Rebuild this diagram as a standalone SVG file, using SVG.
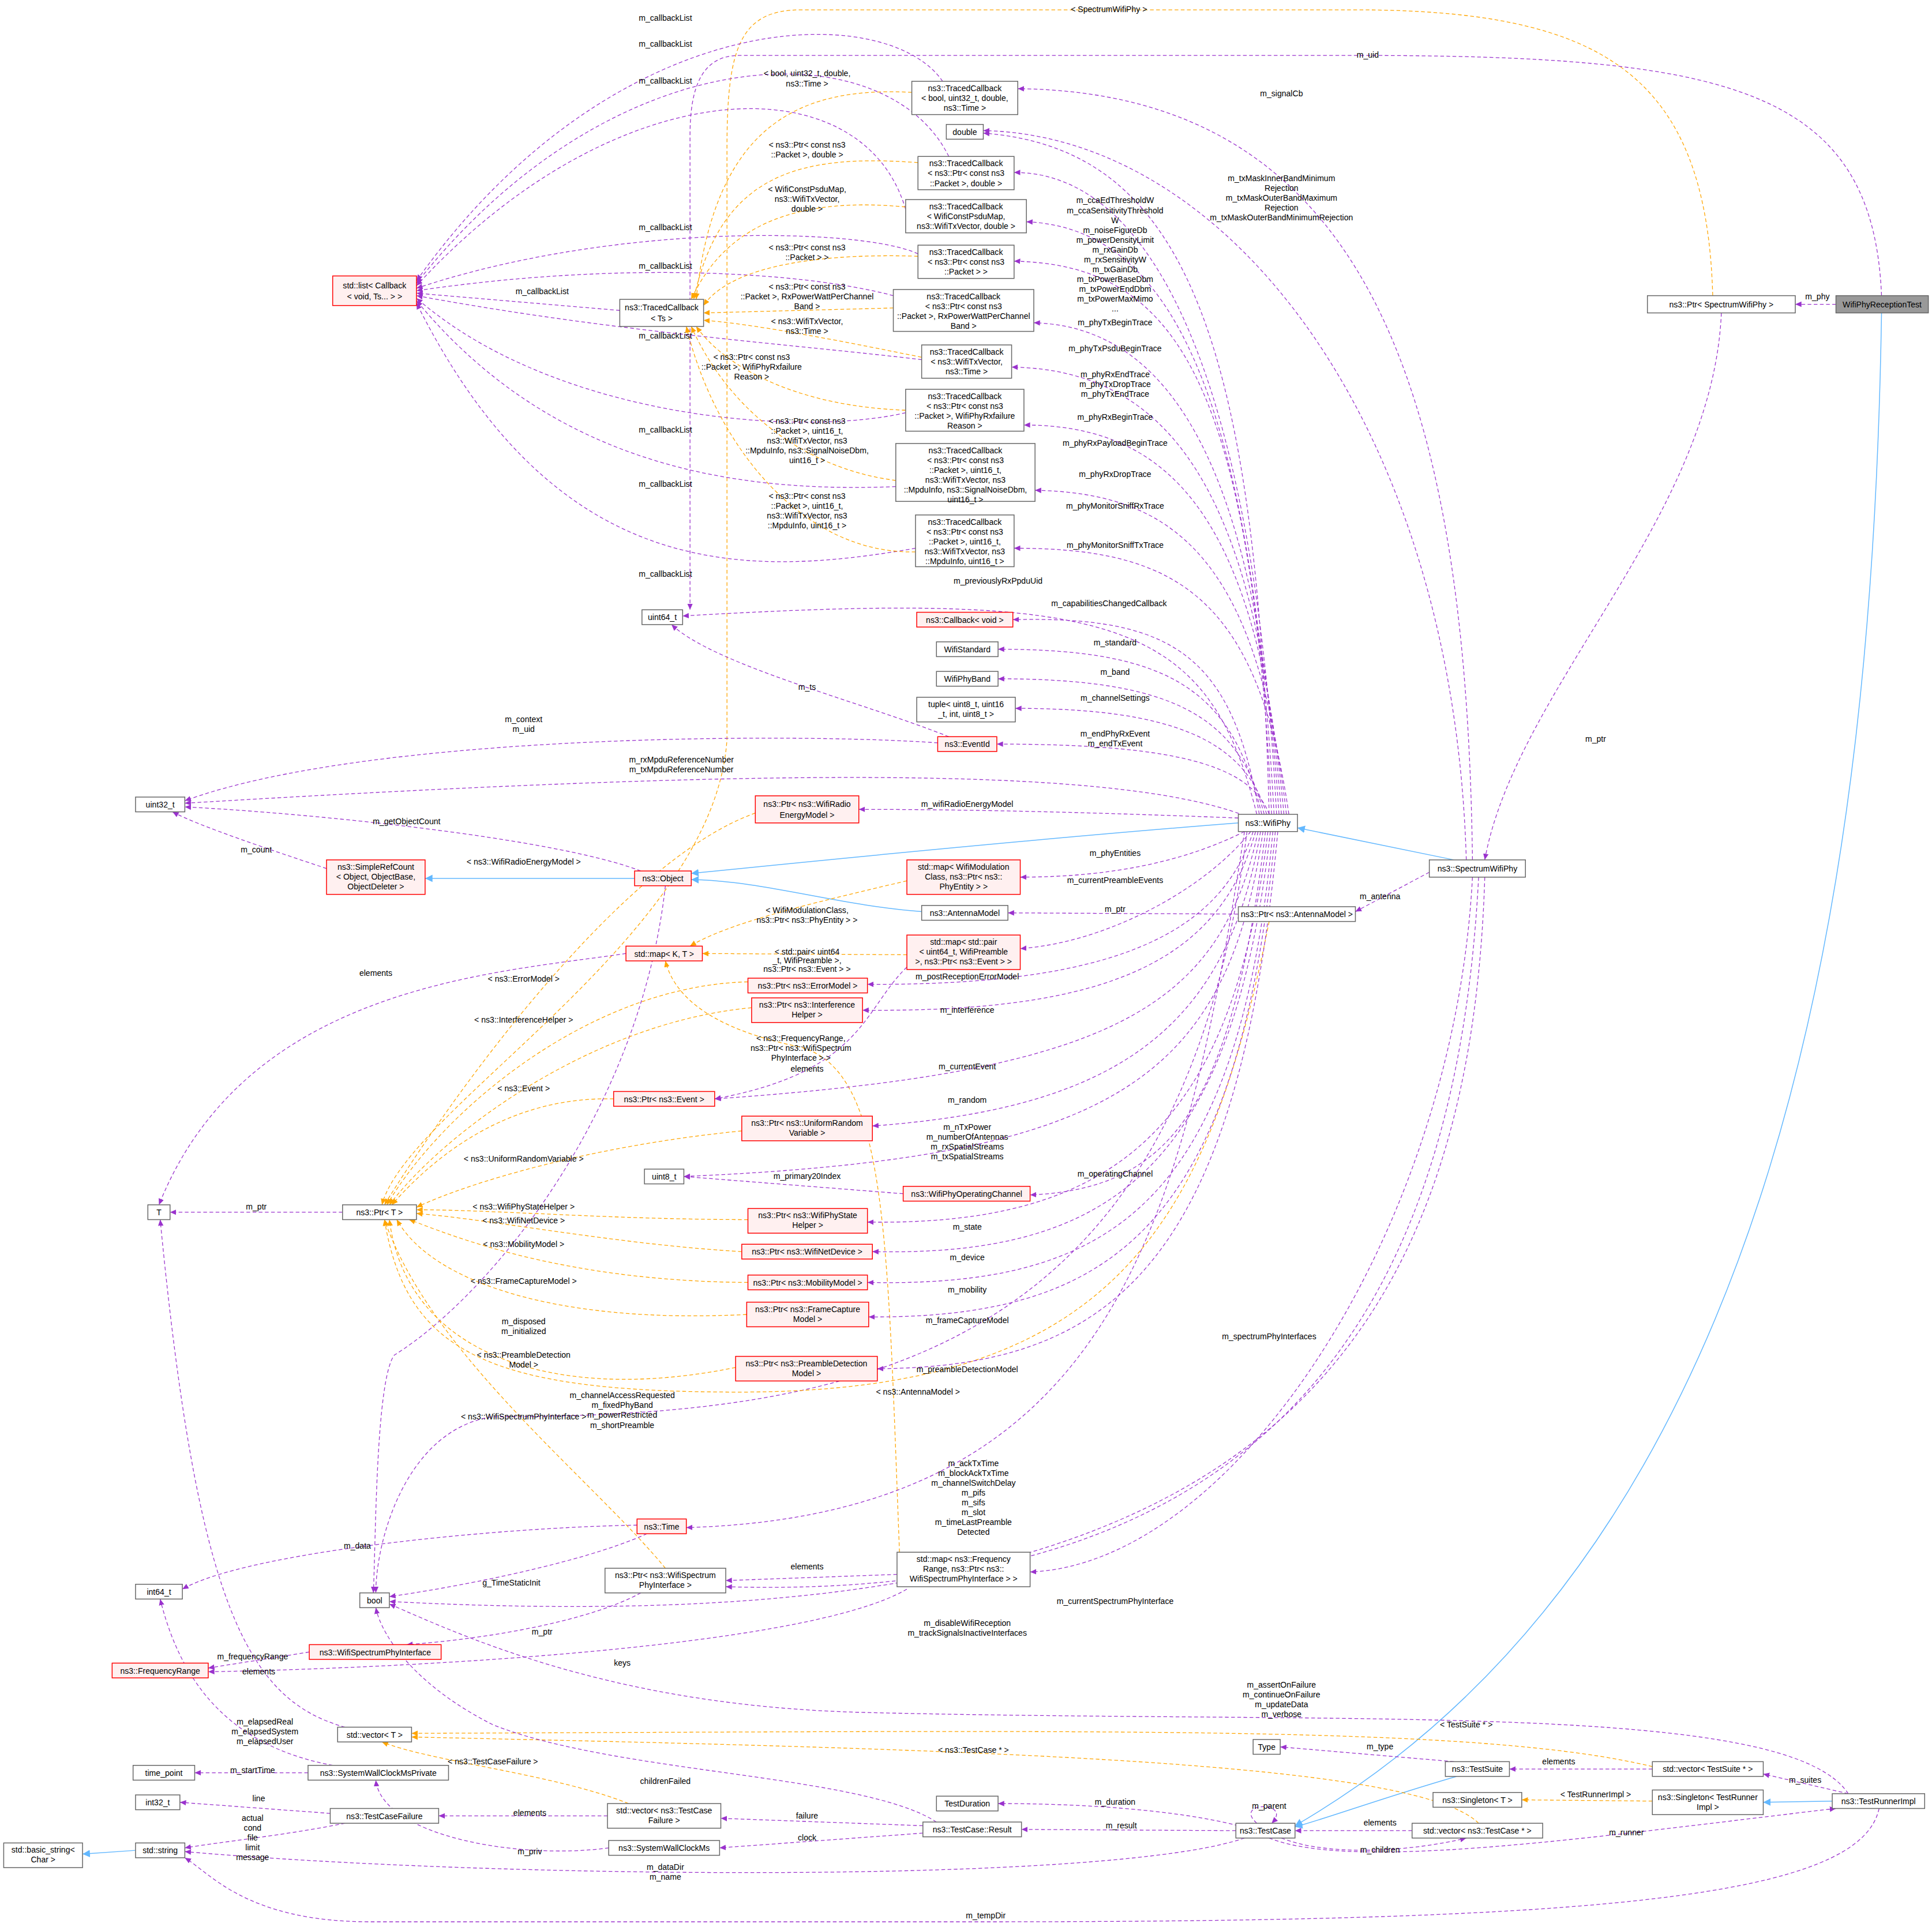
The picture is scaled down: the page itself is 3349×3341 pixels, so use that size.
<svg xmlns="http://www.w3.org/2000/svg" width="3349" height="3341" viewBox="0 0 3349 3341">
<style>
text{font-family:"Liberation Sans",Arial,sans-serif;font-size:6.6px;fill:#000}
.n rect{fill:#fff;stroke:#666;stroke-width:0.7}
.r rect{fill:#fff0f0;stroke:#f00;stroke-width:0.7}
.g rect{fill:#999;stroke:#666;stroke-width:0.7}
.n text,.r text,.g text{text-anchor:middle}
.p{fill:none;stroke:#9a32cd;stroke-width:0.6;stroke-dasharray:3,2;marker-end:url(#mp)}
.o{fill:none;stroke:#ffa500;stroke-width:0.6;stroke-dasharray:3,2;marker-end:url(#mo)}
.b{fill:none;stroke:#63b8ff;stroke-width:0.7;marker-end:url(#mb)}
.l{text-anchor:middle}
</style>
<defs>
<marker id="mp" markerWidth="6" markerHeight="6" refX="5" refY="3" orient="auto" markerUnits="userSpaceOnUse"><path d="M0,0.8L5,3L0,5.2z" fill="#9a32cd"/></marker>
<marker id="mo" markerWidth="6" markerHeight="6" refX="5" refY="3" orient="auto" markerUnits="userSpaceOnUse"><path d="M0,0.8L5,3L0,5.2z" fill="#ffa500"/></marker>
<marker id="mb" markerWidth="7" markerHeight="7" refX="6" refY="3.5" orient="auto" markerUnits="userSpaceOnUse"><path d="M0,0.5L6,3.5L0,6.5z" fill="#63b8ff"/></marker>
</defs>
<rect width="3349" height="3341" fill="#fff"/>
<g transform="scale(2.1359)">
<g id="edges">
<path class="b" d="M1527,254C1520,700 1450,1250 1051,1482"/>
<path class="b" d="M1182,1442C1120,1460 1080,1475 1051,1483"/>
<path class="b" d="M1487,1462L1431,1463"/>
<path class="b" d="M110,1502L67,1505"/>
<path class="b" d="M1180,698L1053,672"/>
<path class="b" d="M1005,668C850,680 650,700 561,709"/>
<path class="b" d="M748,740C680,735 620,715 561,714"/>
<path class="b" d="M515,713L345,713"/>
<path class="p" d="M1490,247L1457,247"/>
<path class="p" d="M1397,254C1390,420 1230,560 1205,698"/>
<path class="o" d="M1390,240C1385,60 1300,8 1100,8L650,8C600,8 590,40 590,120L590,600C580,760 330,900 310,978"/>
<path class="p" d="M1527,240C1520,70 1400,45 1100,45L600,45C570,45 560,70 560,110L560,495"/>
<path class="p" d="M1195,698C1190,300 1100,75 826,72"/>
<path class="p" d="M1190,698C1180,350 1000,110 798,106"/>
<path class="p" d="M1160,708L1100,740"/>
<path class="p" d="M1195,712C1180,1000 1000,1270 836,1276"/>
<path class="p" d="M1200,712C1180,1100 1000,1300 589,1288"/>
<path class="p" d="M1205,712C1190,1200 900,1330 316,1300"/>
<path class="p" d="M1030,1492C1100,1520 1300,1490 1490,1468"/>
<path class="p" d="M1500,1456L1431,1440"/>
<path class="p" d="M1525,1468C1510,1540 1300,1560 800,1560L300,1560C200,1560 170,1520 150,1508"/>
<path class="p" d="M1500,1456C1450,1380 1100,1400 700,1390C500,1385 380,1330 316,1302"/>
<path class="p" d="M1341,1436L1225,1436"/>
<path class="p" d="M1180,1430L1039,1418"/>
<path class="o" d="M1341,1462L1235,1461"/>
<path class="o" d="M1341,1434C1200,1400 900,1405 334,1407"/>
<path class="o" d="M1200,1480C1150,1430 800,1420 334,1410"/>
<path class="p" d="M1146,1486L1051,1486"/>
<path class="p" d="M1040,1492C1080,1508 1150,1502 1190,1492"/>
<path class="p" d="M1020,1480C1000,1462 1050,1462 1032,1480"/>
<path class="p" d="M1003,1486L829,1485"/>
<path class="p" d="M1005,1482C950,1468 870,1464 810,1464"/>
<path class="p" d="M1010,1492C900,1530 400,1525 150,1503"/>
<path class="p" d="M749,1482L585,1476"/>
<path class="p" d="M749,1488L584,1500"/>
<path class="p" d="M760,1479C700,1440 500,1440 400,1400C340,1370 310,1330 305,1305"/>
<path class="p" d="M493,1474L356,1474"/>
<path class="o" d="M510,1464C450,1440 350,1430 310,1414"/>
<path class="p" d="M494,1500C420,1510 310,1490 305,1445"/>
<path class="p" d="M250,1439L158,1439"/>
<path class="p" d="M270,1433C200,1420 150,1380 130,1298"/>
<path class="p" d="M268,1472L146,1463"/>
<path class="p" d="M280,1480C230,1490 180,1495 150,1500"/>
<path class="p" d="M280,1402C200,1380 160,1300 130,990"/>
<path class="p" d="M736,1290C650,1340 300,1355 169,1357"/>
<path class="p" d="M251,1341L169,1354"/>
<path class="p" d="M520,1293C480,1315 400,1330 330,1335"/>
<path class="p" d="M728,1278L589,1283"/>
<path class="o" d="M540,1273C480,1200 350,1100 312,990"/>
<path class="o" d="M730,1260C720,1000 720,870 650,850C600,840 550,820 540,780"/>
<path class="p" d="M517,1238C400,1240 200,1260 148,1290"/>
<path class="p" d="M525,1245C470,1270 360,1290 316,1296"/>
<path class="p" d="M1010,675C960,1000 900,1230 557,1240"/>
<path class="p" d="M1012,675C960,1100 700,1150 400,1150C330,1160 305,1250 305,1293"/>
<path class="p" d="M540,719C520,900 400,1050 320,1100C305,1120 305,1250 303,1293"/>
<path class="p" d="M520,707C450,680 250,660 150,655"/>
<path class="p" d="M265,705C220,690 160,670 140,659"/>
<path class="p" d="M1005,742L818,741"/>
<path class="o" d="M1030,748C980,1000 900,1130 600,1130C400,1130 330,1100 312,990"/>
<path class="p" d="M508,774C400,790 200,800 129,978"/>
<path class="p" d="M278,984L138,984"/>
<path class="p" d="M761,603C650,595 300,595 150,650"/>
<path class="p" d="M770,598C700,570 580,540 545,507"/>
<path class="p" d="M1010,662C900,620 600,625 150,652"/>
<path class="p" d="M1020,661C980,500 900,480 554,500"/>
<path class="p" d="M1022,661C1000,530 950,500 822,503"/>
<path class="p" d="M1024,661C1000,560 950,527 810,527"/>
<path class="p" d="M1026,661C1005,580 950,551 810,551"/>
<path class="p" d="M1028,661C1010,600 950,575 824,575"/>
<path class="p" d="M1030,661C1015,620 950,604 809,604"/>
<path class="p" d="M1005,664C900,660 800,657 697,657"/>
<path class="p" d="M1010,675C960,700 900,712 828,712"/>
<path class="p" d="M1015,675C980,720 900,765 828,770"/>
<path class="p" d="M1017,675C990,760 900,800 704,799"/>
<path class="p" d="M1019,675C990,780 900,822 700,820"/>
<path class="p" d="M1021,675C990,820 900,870 580,892"/>
<path class="p" d="M1023,675C995,840 900,900 708,914"/>
<path class="p" d="M1025,675C995,880 900,940 555,955"/>
<path class="p" d="M1027,675C1000,900 950,965 836,970"/>
<path class="p" d="M733,969L555,955"/>
<path class="p" d="M1029,675C1000,920 900,995 704,992"/>
<path class="p" d="M1031,675C1000,950 900,1020 708,1016"/>
<path class="p" d="M1033,675C1005,980 900,1045 704,1041"/>
<path class="p" d="M1035,675C1005,1000 900,1070 705,1069"/>
<path class="p" d="M1037,675C1005,1030 900,1110 712,1111"/>
<path class="p" d="M736,785C700,820 700,870 580,892"/>
<path class="p" d="M1030,661C1020,250 950,120 798,108"/>
<path class="p" d="M1032,661C1015,300 950,215 823,212"/>
<path class="p" d="M1034,661C1015,320 950,185 833,180"/>
<path class="p" d="M1036,661C1020,350 950,140 823,140"/>
<path class="p" d="M1038,661C1020,380 950,265 839,262"/>
<path class="p" d="M1040,661C1020,400 950,300 821,298"/>
<path class="p" d="M1042,661C1020,420 950,345 831,345"/>
<path class="p" d="M1044,661C1020,450 950,400 840,398"/>
<path class="p" d="M1046,661C1020,480 950,445 823,445"/>
<path class="p" d="M765,66C720,0 500,0 338,228"/>
<path class="p" d="M770,127C720,25 500,25 338,230"/>
<path class="p" d="M735,170C700,50 500,55 338,232"/>
<path class="p" d="M745,206C700,185 500,180 338,234"/>
<path class="p" d="M725,240C650,220 500,212 338,236"/>
<path class="p" d="M503,252L338,238"/>
<path class="p" d="M748,292C650,280 500,270 338,240"/>
<path class="p" d="M735,335C650,355 450,340 338,242"/>
<path class="p" d="M727,395C600,400 450,380 338,244"/>
<path class="p" d="M743,445C600,470 450,470 338,246"/>
<path class="o" d="M740,75C650,70 580,100 565,243"/>
<path class="o" d="M745,132C650,125 585,140 563,243"/>
<path class="o" d="M735,168C650,160 590,180 561,243"/>
<path class="o" d="M745,208C650,205 590,220 571,248"/>
<path class="o" d="M725,250L571,254"/>
<path class="o" d="M748,290C650,270 600,262 571,260"/>
<path class="o" d="M735,333C650,330 590,300 565,265"/>
<path class="o" d="M727,390C650,380 590,330 561,265"/>
<path class="o" d="M743,448C650,450 580,360 557,265"/>
<path class="o" d="M613,660C500,700 360,900 312,978"/>
<path class="o" d="M607,797C480,800 360,900 314,978"/>
<path class="o" d="M610,818C480,830 360,920 316,978"/>
<path class="o" d="M498,892C420,890 360,930 318,978"/>
<path class="o" d="M602,918C480,930 380,960 338,980"/>
<path class="o" d="M607,990C500,990 400,982 338,982"/>
<path class="o" d="M602,1016C500,1010 400,990 338,985"/>
<path class="o" d="M607,1041C450,1040 360,1000 332,990"/>
<path class="o" d="M606,1067C450,1075 350,1040 322,990"/>
<path class="o" d="M597,1110C450,1140 330,1100 316,990"/>
<path class="o" d="M736,715C650,735 590,750 560,768"/>
<path class="o" d="M736,775L570,774"/>
</g>
<g id="labels">
<text x="1475" y="243" class="l">m_phy</text>
<text x="1295" y="602" class="l">m_ptr</text>
<text x="1110" y="47" class="l">m_uid</text>
<text x="900" y="10" class="l">&lt; SpectrumWifiPhy &gt;</text>
<text x="1040" y="78" class="l">m_signalCb</text>
<text x="1040" y="147" class="l">m_txMaskInnerBandMinimum</text>
<text x="1040" y="155" class="l">Rejection</text>
<text x="1040" y="163" class="l">m_txMaskOuterBandMaximum</text>
<text x="1040" y="171" class="l">Rejection</text>
<text x="1040" y="179" class="l">m_txMaskOuterBandMinimumRejection</text>
<text x="1120" y="730" class="l">m_antenna</text>
<text x="1030" y="1087" class="l">m_spectrumPhyInterfaces</text>
<text x="905" y="1302" class="l">m_currentSpectrumPhyInterface</text>
<text x="785" y="1320" class="l">m_disableWifiReception</text>
<text x="785" y="1328" class="l">m_trackSignalsInactiveInterfaces</text>
<text x="1320" y="1490" class="l">m_runner</text>
<text x="1465" y="1447" class="l">m_suites</text>
<text x="800" y="1557" class="l">m_tempDir</text>
<text x="1040" y="1370" class="l">m_assertOnFailure</text>
<text x="1040" y="1378" class="l">m_continueOnFailure</text>
<text x="1040" y="1386" class="l">m_updateData</text>
<text x="1040" y="1394" class="l">m_verbose</text>
<text x="1265" y="1432" class="l">elements</text>
<text x="1120" y="1420" class="l">m_type</text>
<text x="1295" y="1459" class="l">&lt; TestRunnerImpl &gt;</text>
<text x="1190" y="1402" class="l">&lt; TestSuite * &gt;</text>
<text x="790" y="1423" class="l">&lt; ns3::TestCase * &gt;</text>
<text x="1120" y="1482" class="l">elements</text>
<text x="1120" y="1504" class="l">m_children</text>
<text x="1030" y="1468" class="l">m_parent</text>
<text x="910" y="1484" class="l">m_result</text>
<text x="905" y="1465" class="l">m_duration</text>
<text x="540" y="1518" class="l">m_dataDir</text>
<text x="540" y="1526" class="l">m_name</text>
<text x="655" y="1476" class="l">failure</text>
<text x="655" y="1494" class="l">clock</text>
<text x="540" y="1448" class="l">childrenFailed</text>
<text x="430" y="1474" class="l">elements</text>
<text x="400" y="1432" class="l">&lt; ns3::TestCaseFailure &gt;</text>
<text x="430" y="1505" class="l">m_priv</text>
<text x="205" y="1439" class="l">m_startTime</text>
<text x="215" y="1400" class="l">m_elapsedReal</text>
<text x="215" y="1408" class="l">m_elapsedSystem</text>
<text x="215" y="1416" class="l">m_elapsedUser</text>
<text x="210" y="1462" class="l">line</text>
<text x="205" y="1478" class="l">actual</text>
<text x="205" y="1486" class="l">cond</text>
<text x="205" y="1494" class="l">file</text>
<text x="205" y="1502" class="l">limit</text>
<text x="205" y="1510" class="l">message</text>
<text x="210" y="1359" class="l">elements</text>
<text x="505" y="1352" class="l">keys</text>
<text x="205" y="1347" class="l">m_frequencyRange</text>
<text x="440" y="1327" class="l">m_ptr</text>
<text x="655" y="1274" class="l">elements</text>
<text x="425" y="1152" class="l">&lt; ns3::WifiSpectrumPhyInterface &gt;</text>
<text x="650" y="845" class="l">&lt; ns3::FrequencyRange,</text>
<text x="650" y="853" class="l">ns3::Ptr&lt; ns3::WifiSpectrum</text>
<text x="650" y="861" class="l">PhyInterface &gt; &gt;</text>
<text x="290" y="1257" class="l">m_data</text>
<text x="415" y="1287" class="l">g_TimeStaticInit</text>
<text x="790" y="1190" class="l">m_ackTxTime</text>
<text x="790" y="1198" class="l">m_blockAckTxTime</text>
<text x="790" y="1206" class="l">m_channelSwitchDelay</text>
<text x="790" y="1214" class="l">m_pifs</text>
<text x="790" y="1222" class="l">m_sifs</text>
<text x="790" y="1230" class="l">m_slot</text>
<text x="790" y="1238" class="l">m_timeLastPreamble</text>
<text x="790" y="1246" class="l">Detected</text>
<text x="505" y="1135" class="l">m_channelAccessRequested</text>
<text x="505" y="1143" class="l">m_fixedPhyBand</text>
<text x="505" y="1151" class="l">m_powerRestricted</text>
<text x="505" y="1159" class="l">m_shortPreamble</text>
<text x="425" y="1075" class="l">m_disposed</text>
<text x="425" y="1083" class="l">m_initialized</text>
<text x="330" y="669" class="l">m_getObjectCount</text>
<text x="208" y="692" class="l">m_count</text>
<text x="905" y="740" class="l">m_ptr</text>
<text x="745" y="1132" class="l">&lt; ns3::AntennaModel &gt;</text>
<text x="305" y="792" class="l">elements</text>
<text x="208" y="982" class="l">m_ptr</text>
<text x="425" y="586" class="l">m_context</text>
<text x="425" y="594" class="l">m_uid</text>
<text x="655" y="560" class="l">m_ts</text>
<text x="553" y="619" class="l">m_rxMpduReferenceNumber</text>
<text x="553" y="627" class="l">m_txMpduReferenceNumber</text>
<text x="810" y="474" class="l">m_previouslyRxPpduUid</text>
<text x="900" y="492" class="l">m_capabilitiesChangedCallback</text>
<text x="905" y="524" class="l">m_standard</text>
<text x="905" y="548" class="l">m_band</text>
<text x="905" y="569" class="l">m_channelSettings</text>
<text x="905" y="598" class="l">m_endPhyRxEvent</text>
<text x="905" y="606" class="l">m_endTxEvent</text>
<text x="785" y="655" class="l">m_wifiRadioEnergyModel</text>
<text x="905" y="695" class="l">m_phyEntities</text>
<text x="905" y="717" class="l">m_currentPreambleEvents</text>
<text x="785" y="795" class="l">m_postReceptionErrorModel</text>
<text x="785" y="822" class="l">m_interference</text>
<text x="785" y="868" class="l">m_currentEvent</text>
<text x="785" y="895" class="l">m_random</text>
<text x="785" y="917" class="l">m_nTxPower</text>
<text x="785" y="925" class="l">m_numberOfAntennas</text>
<text x="785" y="933" class="l">m_rxSpatialStreams</text>
<text x="785" y="941" class="l">m_txSpatialStreams</text>
<text x="905" y="955" class="l">m_operatingChannel</text>
<text x="655" y="957" class="l">m_primary20Index</text>
<text x="785" y="998" class="l">m_state</text>
<text x="785" y="1023" class="l">m_device</text>
<text x="785" y="1049" class="l">m_mobility</text>
<text x="785" y="1074" class="l">m_frameCaptureModel</text>
<text x="785" y="1114" class="l">m_preambleDetectionModel</text>
<text x="655" y="870" class="l">elements</text>
<text x="905" y="165" class="l">m_ccaEdThresholdW</text>
<text x="905" y="173" class="l">m_ccaSensitivityThreshold</text>
<text x="905" y="181" class="l">W</text>
<text x="905" y="189" class="l">m_noiseFigureDb</text>
<text x="905" y="197" class="l">m_powerDensityLimit</text>
<text x="905" y="205" class="l">m_rxGainDb</text>
<text x="905" y="213" class="l">m_rxSensitivityW</text>
<text x="905" y="221" class="l">m_txGainDb</text>
<text x="905" y="229" class="l">m_txPowerBaseDbm</text>
<text x="905" y="237" class="l">m_txPowerEndDbm</text>
<text x="905" y="245" class="l">m_txPowerMaxMimo</text>
<text x="905" y="253" class="l">...</text>
<text x="905" y="264" class="l">m_phyTxBeginTrace</text>
<text x="905" y="285" class="l">m_phyTxPsduBeginTrace</text>
<text x="905" y="306" class="l">m_phyRxEndTrace</text>
<text x="905" y="314" class="l">m_phyTxDropTrace</text>
<text x="905" y="322" class="l">m_phyTxEndTrace</text>
<text x="905" y="341" class="l">m_phyRxBeginTrace</text>
<text x="905" y="362" class="l">m_phyRxPayloadBeginTrace</text>
<text x="905" y="387" class="l">m_phyRxDropTrace</text>
<text x="905" y="413" class="l">m_phyMonitorSniffRxTrace</text>
<text x="905" y="445" class="l">m_phyMonitorSniffTxTrace</text>
<text x="540" y="17" class="l">m_callbackList</text>
<text x="540" y="38" class="l">m_callbackList</text>
<text x="540" y="68" class="l">m_callbackList</text>
<text x="540" y="187" class="l">m_callbackList</text>
<text x="540" y="218" class="l">m_callbackList</text>
<text x="440" y="239" class="l">m_callbackList</text>
<text x="540" y="275" class="l">m_callbackList</text>
<text x="540" y="351" class="l">m_callbackList</text>
<text x="540" y="395" class="l">m_callbackList</text>
<text x="540" y="468" class="l">m_callbackList</text>
<text x="655" y="62" class="l">&lt; bool, uint32_t, double,</text>
<text x="655" y="70" class="l">ns3::Time &gt;</text>
<text x="655" y="120" class="l">&lt; ns3::Ptr&lt; const ns3</text>
<text x="655" y="128" class="l">::Packet &gt;, double &gt;</text>
<text x="655" y="156" class="l">&lt; WifiConstPsduMap,</text>
<text x="655" y="164" class="l">ns3::WifiTxVector,</text>
<text x="655" y="172" class="l">double &gt;</text>
<text x="655" y="203" class="l">&lt; ns3::Ptr&lt; const ns3</text>
<text x="655" y="211" class="l">::Packet &gt; &gt;</text>
<text x="655" y="235" class="l">&lt; ns3::Ptr&lt; const ns3</text>
<text x="655" y="243" class="l">::Packet &gt;, RxPowerWattPerChannel</text>
<text x="655" y="251" class="l">Band &gt;</text>
<text x="655" y="263" class="l">&lt; ns3::WifiTxVector,</text>
<text x="655" y="271" class="l">ns3::Time &gt;</text>
<text x="610" y="292" class="l">&lt; ns3::Ptr&lt; const ns3</text>
<text x="610" y="300" class="l">::Packet &gt;, WifiPhyRxfailure</text>
<text x="610" y="308" class="l">Reason &gt;</text>
<text x="655" y="344" class="l">&lt; ns3::Ptr&lt; const ns3</text>
<text x="655" y="352" class="l">::Packet &gt;, uint16_t,</text>
<text x="655" y="360" class="l">ns3::WifiTxVector, ns3</text>
<text x="655" y="368" class="l">::MpduInfo, ns3::SignalNoiseDbm,</text>
<text x="655" y="376" class="l">uint16_t &gt;</text>
<text x="655" y="405" class="l">&lt; ns3::Ptr&lt; const ns3</text>
<text x="655" y="413" class="l">::Packet &gt;, uint16_t,</text>
<text x="655" y="421" class="l">ns3::WifiTxVector, ns3</text>
<text x="655" y="429" class="l">::MpduInfo, uint16_t &gt;</text>
<text x="425" y="702" class="l">&lt; ns3::WifiRadioEnergyModel &gt;</text>
<text x="425" y="797" class="l">&lt; ns3::ErrorModel &gt;</text>
<text x="425" y="830" class="l">&lt; ns3::InterferenceHelper &gt;</text>
<text x="425" y="886" class="l">&lt; ns3::Event &gt;</text>
<text x="425" y="943" class="l">&lt; ns3::UniformRandomVariable &gt;</text>
<text x="425" y="982" class="l">&lt; ns3::WifiPhyStateHelper &gt;</text>
<text x="425" y="993" class="l">&lt; ns3::WifiNetDevice &gt;</text>
<text x="425" y="1012" class="l">&lt; ns3::MobilityModel &gt;</text>
<text x="425" y="1042" class="l">&lt; ns3::FrameCaptureModel &gt;</text>
<text x="425" y="1102" class="l">&lt; ns3::PreambleDetection</text>
<text x="425" y="1110" class="l">Model &gt;</text>
<text x="655" y="741" class="l">&lt; WifiModulationClass,</text>
<text x="655" y="749" class="l">ns3::Ptr&lt; ns3::PhyEntity &gt; &gt;</text>
<text x="655" y="775" class="l">&lt; std::pair&lt; uint64</text>
<text x="655" y="782" class="l">_t, WifiPreamble &gt;,</text>
<text x="655" y="789" class="l">ns3::Ptr&lt; ns3::Event &gt; &gt;</text>
</g>
<g id="n1" class="g"><rect x="1490" y="240" width="75" height="14"/><text x="1527.5" y="249.5">WifiPhyReceptionTest</text></g>
<g id="n2" class="n"><rect x="1337" y="240" width="120" height="14"/><text x="1397" y="249.5">ns3::Ptr&lt; SpectrumWifiPhy &gt;</text></g>
<g id="n3" class="n"><rect x="1160" y="698" width="78" height="14"/><text x="1199" y="707.5">ns3::SpectrumWifiPhy</text></g>
<g id="n4" class="n"><rect x="1005" y="661" width="48" height="14"/><text x="1029" y="670.5">ns3::WifiPhy</text></g>
<g id="n5" class="r"><rect x="270" y="224" width="68" height="24"/><text x="304" y="234">std::list&lt; Callback</text><text x="304" y="243">&lt; void, Ts... &gt; &gt;</text></g>
<g id="n6" class="n"><rect x="503" y="243" width="68" height="22"/><text x="537" y="252">ns3::TracedCallback</text><text x="537" y="261">&lt; Ts &gt;</text></g>
<g id="n7" class="n"><rect x="740" y="66" width="86" height="27"/><text x="783" y="74">ns3::TracedCallback</text><text x="783" y="82">&lt; bool, uint32_t, double,</text><text x="783" y="90">ns3::Time &gt;</text></g>
<g id="n8" class="n"><rect x="768" y="101" width="30" height="12"/><text x="783" y="109.5">double</text></g>
<g id="n9" class="n"><rect x="745" y="127" width="78" height="27"/><text x="784" y="135">ns3::TracedCallback</text><text x="784" y="143">&lt; ns3::Ptr&lt; const ns3</text><text x="784" y="151">::Packet &gt;, double &gt;</text></g>
<g id="n10" class="n"><rect x="735" y="162" width="98" height="27"/><text x="784" y="170">ns3::TracedCallback</text><text x="784" y="178">&lt; WifiConstPsduMap,</text><text x="784" y="186">ns3::WifiTxVector, double &gt;</text></g>
<g id="n11" class="n"><rect x="745" y="199" width="78" height="27"/><text x="784" y="207">ns3::TracedCallback</text><text x="784" y="215">&lt; ns3::Ptr&lt; const ns3</text><text x="784" y="223">::Packet &gt; &gt;</text></g>
<g id="n12" class="n"><rect x="725" y="235" width="114" height="34"/><text x="782" y="243">ns3::TracedCallback</text><text x="782" y="251">&lt; ns3::Ptr&lt; const ns3</text><text x="782" y="259">::Packet &gt;, RxPowerWattPerChannel</text><text x="782" y="267">Band &gt;</text></g>
<g id="n13" class="n"><rect x="748" y="280" width="73" height="27"/><text x="784.5" y="288">ns3::TracedCallback</text><text x="784.5" y="296">&lt; ns3::WifiTxVector,</text><text x="784.5" y="304">ns3::Time &gt;</text></g>
<g id="n14" class="n"><rect x="735" y="316" width="96" height="34"/><text x="783" y="324">ns3::TracedCallback</text><text x="783" y="332">&lt; ns3::Ptr&lt; const ns3</text><text x="783" y="340">::Packet &gt;, WifiPhyRxfailure</text><text x="783" y="348">Reason &gt;</text></g>
<g id="n15" class="n"><rect x="727" y="360" width="113" height="47"/><text x="783.5" y="368">ns3::TracedCallback</text><text x="783.5" y="376">&lt; ns3::Ptr&lt; const ns3</text><text x="783.5" y="384">::Packet &gt;, uint16_t,</text><text x="783.5" y="392">ns3::WifiTxVector, ns3</text><text x="783.5" y="400">::MpduInfo, ns3::SignalNoiseDbm,</text><text x="783.5" y="408">uint16_t &gt;</text></g>
<g id="n16" class="n"><rect x="743" y="418" width="80" height="42"/><text x="783" y="426">ns3::TracedCallback</text><text x="783" y="434">&lt; ns3::Ptr&lt; const ns3</text><text x="783" y="442">::Packet &gt;, uint16_t,</text><text x="783" y="450">ns3::WifiTxVector, ns3</text><text x="783" y="458">::MpduInfo, uint16_t &gt;</text></g>
<g id="n17" class="n"><rect x="521" y="495" width="33" height="12"/><text x="537.5" y="503.5">uint64_t</text></g>
<g id="n18" class="r"><rect x="744" y="497" width="78" height="12"/><text x="783" y="505.5">ns3::Callback&lt; void &gt;</text></g>
<g id="n19" class="n"><rect x="760" y="521" width="50" height="12"/><text x="785" y="529.5">WifiStandard</text></g>
<g id="n20" class="n"><rect x="760" y="545" width="50" height="12"/><text x="785" y="553.5">WifiPhyBand</text></g>
<g id="n21" class="n"><rect x="744" y="566" width="80" height="20"/><text x="784" y="574">tuple&lt; uint8_t, uint16</text><text x="784" y="582">_t, int, uint8_t &gt;</text></g>
<g id="n22" class="r"><rect x="761" y="598" width="48" height="12"/><text x="785" y="606.5">ns3::EventId</text></g>
<g id="n23" class="n"><rect x="110" y="647" width="40" height="12"/><text x="130" y="655.5">uint32_t</text></g>
<g id="n24" class="r"><rect x="613" y="646" width="84" height="22"/><text x="655" y="655">ns3::Ptr&lt; ns3::WifiRadio</text><text x="655" y="664">EnergyModel &gt;</text></g>
<g id="n25" class="r"><rect x="265" y="698" width="80" height="28"/><text x="305" y="706">ns3::SimpleRefCount</text><text x="305" y="714">&lt; Object, ObjectBase,</text><text x="305" y="722">ObjectDeleter &gt;</text></g>
<g id="n26" class="r"><rect x="515" y="707" width="46" height="12"/><text x="538" y="715.5">ns3::Object</text></g>
<g id="n27" class="r"><rect x="736" y="698" width="92" height="28"/><text x="782" y="706">std::map&lt; WifiModulation</text><text x="782" y="714">Class, ns3::Ptr&lt; ns3::</text><text x="782" y="722">PhyEntity &gt; &gt;</text></g>
<g id="n28" class="n"><rect x="748" y="735" width="70" height="12"/><text x="783" y="743.5">ns3::AntennaModel</text></g>
<g id="n29" class="n"><rect x="1005" y="736" width="95" height="12"/><text x="1052.5" y="744.5">ns3::Ptr&lt; ns3::AntennaModel &gt;</text></g>
<g id="n30" class="r"><rect x="508" y="768" width="62" height="12"/><text x="539" y="776.5">std::map&lt; K, T &gt;</text></g>
<g id="n31" class="r"><rect x="736" y="759" width="92" height="28"/><text x="782" y="767">std::map&lt; std::pair</text><text x="782" y="775">&lt; uint64_t, WifiPreamble</text><text x="782" y="783">&gt;, ns3::Ptr&lt; ns3::Event &gt; &gt;</text></g>
<g id="n32" class="r"><rect x="607" y="794" width="97" height="12"/><text x="655.5" y="802.5">ns3::Ptr&lt; ns3::ErrorModel &gt;</text></g>
<g id="n33" class="r"><rect x="610" y="810" width="90" height="20"/><text x="655" y="818">ns3::Ptr&lt; ns3::Interference</text><text x="655" y="826">Helper &gt;</text></g>
<g id="n34" class="n"><rect x="120" y="978" width="18" height="12"/><text x="129" y="986.5">T</text></g>
<g id="n35" class="r"><rect x="498" y="886" width="82" height="12"/><text x="539" y="894.5">ns3::Ptr&lt; ns3::Event &gt;</text></g>
<g id="n36" class="r"><rect x="602" y="906" width="106" height="20"/><text x="655" y="914">ns3::Ptr&lt; ns3::UniformRandom</text><text x="655" y="922">Variable &gt;</text></g>
<g id="n37" class="n"><rect x="523" y="949" width="32" height="12"/><text x="539" y="957.5">uint8_t</text></g>
<g id="n38" class="r"><rect x="733" y="963" width="103" height="12"/><text x="784.5" y="971.5">ns3::WifiPhyOperatingChannel</text></g>
<g id="n39" class="n"><rect x="278" y="978" width="60" height="12"/><text x="308" y="986.5">ns3::Ptr&lt; T &gt;</text></g>
<g id="n40" class="r"><rect x="607" y="981" width="97" height="20"/><text x="655.5" y="989">ns3::Ptr&lt; ns3::WifiPhyState</text><text x="655.5" y="997">Helper &gt;</text></g>
<g id="n41" class="r"><rect x="602" y="1010" width="106" height="12"/><text x="655" y="1018.5">ns3::Ptr&lt; ns3::WifiNetDevice &gt;</text></g>
<g id="n42" class="r"><rect x="607" y="1035" width="97" height="12"/><text x="655.5" y="1043.5">ns3::Ptr&lt; ns3::MobilityModel &gt;</text></g>
<g id="n43" class="r"><rect x="606" y="1057" width="99" height="20"/><text x="655.5" y="1065">ns3::Ptr&lt; ns3::FrameCapture</text><text x="655.5" y="1073">Model &gt;</text></g>
<g id="n44" class="r"><rect x="597" y="1101" width="115" height="20"/><text x="654.5" y="1109">ns3::Ptr&lt; ns3::PreambleDetection</text><text x="654.5" y="1117">Model &gt;</text></g>
<g id="n45" class="r"><rect x="517" y="1233" width="40" height="12"/><text x="537" y="1241.5">ns3::Time</text></g>
<g id="n46" class="n"><rect x="110" y="1286" width="38" height="12"/><text x="129" y="1294.5">int64_t</text></g>
<g id="n47" class="n"><rect x="292" y="1293" width="24" height="12"/><text x="304" y="1301.5">bool</text></g>
<g id="n48" class="n"><rect x="491" y="1273" width="98" height="20"/><text x="540" y="1281">ns3::Ptr&lt; ns3::WifiSpectrum</text><text x="540" y="1289">PhyInterface &gt;</text></g>
<g id="n49" class="n"><rect x="728" y="1260" width="108" height="28"/><text x="782" y="1268">std::map&lt; ns3::Frequency</text><text x="782" y="1276">Range, ns3::Ptr&lt; ns3::</text><text x="782" y="1284">WifiSpectrumPhyInterface &gt; &gt;</text></g>
<g id="n50" class="r"><rect x="251" y="1335" width="107" height="12"/><text x="304.5" y="1343.5">ns3::WifiSpectrumPhyInterface</text></g>
<g id="n51" class="r"><rect x="91" y="1350" width="78" height="12"/><text x="130" y="1358.5">ns3::FrequencyRange</text></g>
<g id="n52" class="n"><rect x="274" y="1402" width="60" height="12"/><text x="304" y="1410.5">std::vector&lt; T &gt;</text></g>
<g id="n53" class="n"><rect x="108" y="1433" width="50" height="12"/><text x="133" y="1441.5">time_point</text></g>
<g id="n54" class="n"><rect x="250" y="1433" width="114" height="12"/><text x="307" y="1441.5">ns3::SystemWallClockMsPrivate</text></g>
<g id="n55" class="n"><rect x="110" y="1457" width="36" height="12"/><text x="128" y="1465.5">int32_t</text></g>
<g id="n56" class="n"><rect x="268" y="1468" width="88" height="12"/><text x="312" y="1476.5">ns3::TestCaseFailure</text></g>
<g id="n57" class="n"><rect x="493" y="1464" width="92" height="20"/><text x="539" y="1472">std::vector&lt; ns3::TestCase</text><text x="539" y="1480">Failure &gt;</text></g>
<g id="n58" class="n"><rect x="494" y="1494" width="90" height="12"/><text x="539" y="1502.5">ns3::SystemWallClockMs</text></g>
<g id="n59" class="n"><rect x="3" y="1496" width="64" height="20"/><text x="35" y="1504">std::basic_string&lt;</text><text x="35" y="1512">Char &gt;</text></g>
<g id="n60" class="n"><rect x="110" y="1496" width="40" height="12"/><text x="130" y="1504.5">std::string</text></g>
<g id="n61" class="n"><rect x="1017" y="1412" width="22" height="12"/><text x="1028" y="1420.5">Type</text></g>
<g id="n62" class="n"><rect x="1173" y="1430" width="52" height="12"/><text x="1199" y="1438.5">ns3::TestSuite</text></g>
<g id="n63" class="n"><rect x="1341" y="1430" width="90" height="12"/><text x="1386" y="1438.5">std::vector&lt; TestSuite * &gt;</text></g>
<g id="n64" class="n"><rect x="760" y="1458" width="50" height="12"/><text x="785" y="1466.5">TestDuration</text></g>
<g id="n65" class="n"><rect x="1163" y="1455" width="72" height="12"/><text x="1199" y="1463.5">ns3::Singleton&lt; T &gt;</text></g>
<g id="n66" class="n"><rect x="1341" y="1453" width="90" height="20"/><text x="1386" y="1461">ns3::Singleton&lt; TestRunner</text><text x="1386" y="1469">Impl &gt;</text></g>
<g id="n67" class="n"><rect x="749" y="1479" width="80" height="12"/><text x="789" y="1487.5">ns3::TestCase::Result</text></g>
<g id="n68" class="n"><rect x="1003" y="1480" width="48" height="12"/><text x="1027" y="1488.5">ns3::TestCase</text></g>
<g id="n69" class="n"><rect x="1146" y="1480" width="106" height="12"/><text x="1199" y="1488.5">std::vector&lt; ns3::TestCase * &gt;</text></g>
<g id="n70" class="n"><rect x="1487" y="1456" width="75" height="12"/><text x="1524.5" y="1464.5">ns3::TestRunnerImpl</text></g>
</g>
</svg>
